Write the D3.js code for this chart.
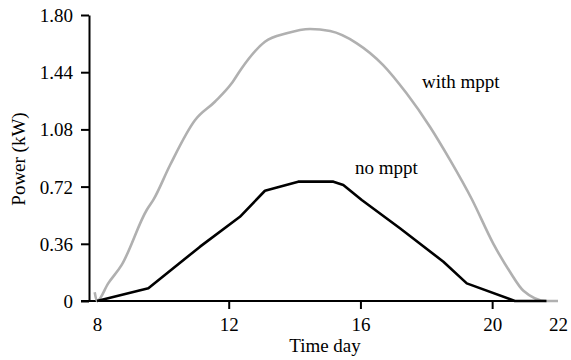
<!DOCTYPE html>
<html>
<head>
<meta charset="utf-8">
<script src="https://cdn.jsdelivr.net/npm/d3@7"></script>
</head>
<body style="margin:0">
<svg id="chart" width="571" height="360" style="display:block;background:#fff"></svg>
<script>
// Hour of day and power output (kW) for the two operating modes
const withMpptHours = [7.93, 8.0, 8.34, 8.75, 9.51, 9.71, 10.22, 10.98, 11.58, 12.09, 12.39, 13.10, 13.76, 14.47, 15.08, 15.89, 16.69, 17.40, 18.11, 18.72, 19.38, 20.03, 20.54, 20.95, 21.66, 22.0];
const withMpptPower = [0.055, 0.0, 0.111, 0.227, 0.573, 0.636, 0.856, 1.139, 1.254, 1.370, 1.464, 1.632, 1.685, 1.712, 1.699, 1.622, 1.485, 1.307, 1.097, 0.888, 0.642, 0.363, 0.184, 0.065, 0.0, 0.0];

const noMpptHours = [8.0, 9.56, 11.13, 12.34, 13.10, 14.11, 15.18, 15.48, 16.04, 17.20, 18.52, 19.23, 20.69, 21.65];
const noMpptPower = [0.0, 0.080, 0.342, 0.530, 0.694, 0.751, 0.751, 0.730, 0.636, 0.458, 0.247, 0.111, 0.0, 0.0];

const xTicks = [8, 12, 16, 20, 22];
const yTicks = [0, 0.36, 0.72, 1.08, 1.44, 1.80];
const yTickLabels = ["0", "0.36", "0.72", "1.08", "1.44", "1.80"];

const seriesNames = ["with mppt", "no mppt"];

const svg = d3.select("#chart");
const axisX0 = 89;   // left edge of the plot (y axis position)

// Labels are set at 22px in the serif face and scaled to 19px on screen
const BASE = 22;
const K = 19 / BASE;
function serif(sel) {
  return sel.style("font-family", "\"Liberation Serif\"")
    .attr("font-size", BASE)
    .attr("fill", "#000");
}

const x = d3.scaleLinear().domain([8, 22]).range([97, 558]);
const y = d3.scaleLinear().domain([0, 1.8]).range([301, 15]);

// Y axis
const yAxis = svg.append("g")
  .attr("transform", `translate(${axisX0},0)`)
  .call(d3.axisLeft(y)
    .tickValues(yTicks)
    .tickFormat((d, i) => yTickLabels[i])
    .tickSize(8)
    .tickSizeOuter(0)
    .tickPadding(8));
yAxis.attr("font-family", null).attr("font-size", null);
yAxis.select(".domain").attr("stroke", "#000").attr("stroke-width", 2);
yAxis.selectAll(".tick line").attr("stroke", "#000").attr("stroke-width", 2);
yAxis.selectAll(".tick text").call(serif)
  .attr("transform", `scale(${K})`)
  .attr("x", -16 / K)
  .attr("dy", "0.34em");

// X axis
const xAxis = svg.append("g")
  .attr("transform", `translate(0,${y(0)})`)
  .call(d3.axisBottom(x)
    .tickValues(xTicks)
    .tickFormat(d3.format("d"))
    .tickSize(8)
    .tickSizeOuter(0)
    .tickPadding(9));
xAxis.attr("font-family", null).attr("font-size", null);
xAxis.select(".domain")
  .attr("d", `M${axisX0 - 8},0H${x(22)}`)
  .attr("stroke", "#000").attr("stroke-width", 2);
xAxis.selectAll(".tick line")
  .attr("stroke", "#000").attr("stroke-width", 2)
  .attr("display", d => (d === 8 || d === 22) ? "none" : null);
xAxis.selectAll(".tick text").call(serif)
  .attr("transform", `scale(${K})`)
  .attr("y", 17 / K)
  .attr("dy", "0.71em");

// Axis titles
svg.append("text")
  .attr("transform", `translate(25,159) rotate(-90) scale(${K})`)
  .attr("text-anchor", "middle")
  .call(serif)
  .text("Power (kW)");

svg.append("text")
  .attr("transform", `translate(325,352) scale(${K})`)
  .attr("text-anchor", "middle")
  .call(serif)
  .text("Time day");

// Series lines
const lineOf = curve => d3.line()
  .x(d => x(d[0]))
  .y(d => y(d[1]))
  .curve(curve);

const withMppt = withMpptHours.map((h, i) => [h, withMpptPower[i]]);
const noMppt = noMpptHours.map((h, i) => [h, noMpptPower[i]]);

svg.append("path")
  .datum(withMppt)
  .attr("fill", "none")
  .attr("stroke", "#b0b0b0")
  .attr("stroke-width", 2.6)
  .attr("stroke-linejoin", "round")
  .attr("d", lineOf(d3.curveMonotoneX));

svg.append("path")
  .datum(noMppt)
  .attr("fill", "none")
  .attr("stroke", "#000")
  .attr("stroke-width", 2.6)
  .attr("stroke-linejoin", "round")
  .attr("d", lineOf(d3.curveLinear));

// Series labels
svg.append("text")
  .attr("transform", `translate(422,88) scale(${K})`)
  .call(serif)
  .text(seriesNames[0]);

svg.append("text")
  .attr("transform", `translate(355,174) scale(${K})`)
  .call(serif)
  .text(seriesNames[1]);
</script>
</body>
</html>
